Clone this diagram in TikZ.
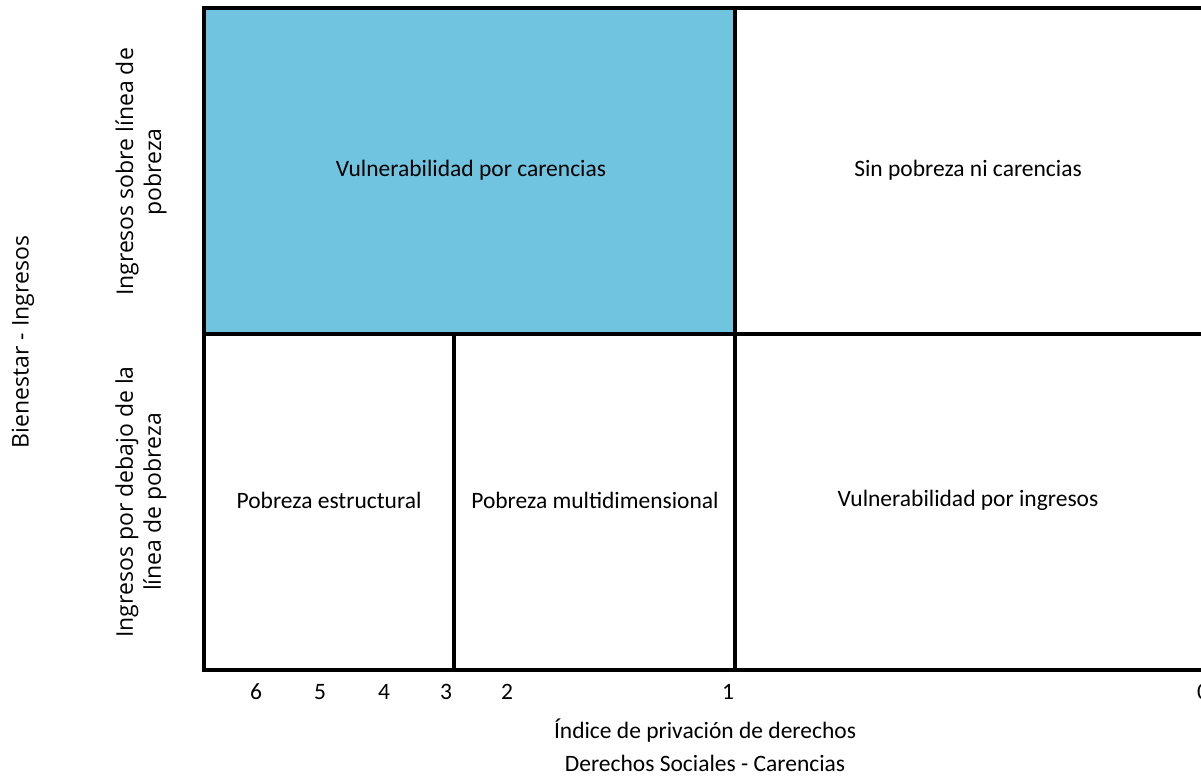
\documentclass[tikz,border=0pt]{standalone}
\usepackage{fontspec}
\setmainfont{Carlito}
\newfontfamily\ejefont{Open Sans}
\definecolor{celeste}{RGB}{112,196,224}

\begin{document}
\begin{tikzpicture}[x=1pt,y=-1pt]
\tikzset{rejilla/.style={line width=4pt,black},
texto/.style={font=\fontsize{23.5}{28}\selectfont},
eje/.style={font=\ejefont\fontsize{23}{28}\selectfont,rotate=90,align=center},
numero/.style={font=\fontsize{23.5}{28}\selectfont}}
\useasboundingbox (0,0) rectangle (1201,778);

% esquinas de la rejilla
\coordinate (NO) at (204,8);
\coordinate (NE) at (1215,8);
\coordinate (O) at (204,334);
\coordinate (E) at (1215,334);
\coordinate (SO) at (204,670);
\coordinate (SE) at (1215,670);
\coordinate (M1) at (454,334);
\coordinate (M1b) at (454,670);
\coordinate (M2) at (735,8);
\coordinate (M2b) at (735,670);

\fill[celeste] (NO) rectangle (M2 |- O);
\draw[rejilla] (NE) -- (NO) -- (SO) -- (SE);
\draw[rejilla] (O) -- (E);
\draw[rejilla] (M1) -- (M1b);
\draw[rejilla] (M2) -- (M2b);

\node[texto] (A) at (471,170){Vulnerabilidad por carencias};
\node[texto] (B) at (968,170){Sin pobreza ni carencias};
\node[texto] (C) at (329,500){Pobreza estructural};
\node[texto] (D) at (595,500){Pobreza multidimensional};
\node[texto] (F) at (968,500){Vulnerabilidad por ingresos};

\node[eje] (Y1) at (141,172){Ingresos sobre línea de\\pobreza};
\node[eje] (Y2) at (141,502){Ingresos por debajo de la\\línea de pobreza};
\node[eje] (Y) at (23,342){Bienestar - Ingresos};

\foreach \n/\x in {6/256,5/320,4/384,3/446,2/507,1/728,0/1203}
  \node[numero] (n\n) at (\x,692){\n};

\node[texto] (X1) at (705,731){Índice de privación de derechos};
\node[texto] (X2) at (705,763){Derechos Sociales - Carencias};
\end{tikzpicture}
\end{document}
